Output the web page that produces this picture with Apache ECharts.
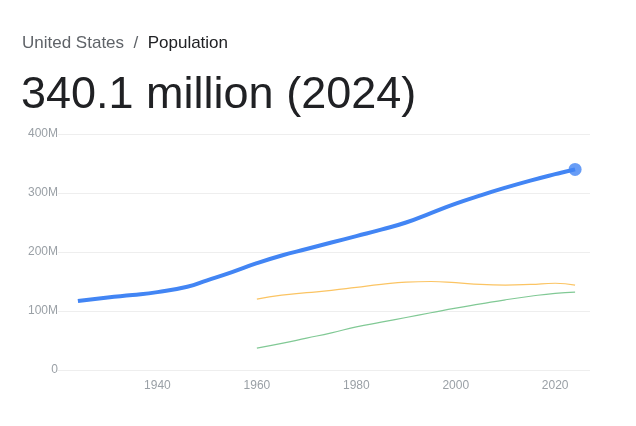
<!DOCTYPE html>
<html><head><meta charset="utf-8">
<script src="https://cdn.jsdelivr.net/npm/echarts@6/dist/echarts.min.js"></script>
<style>body{margin:0;background:#fff}#c{width:636px;height:426px}</style>
</head><body><div id="c"></div>
<script>
var usYears = [1924, 1930, 1935, 1940, 1946, 1950, 1955, 1960, 1965, 1970, 1975, 1980, 1985, 1990, 1995, 2000, 2005, 2010, 2015, 2020, 2022, 2024];
var usPop = [117, 123, 127, 132, 141, 152, 166, 181, 194, 205, 216, 227, 238, 250, 266, 282, 296, 309, 321, 332, 336, 340];
var oYears = [1960, 1965, 1970, 1975, 1980, 1985, 1990, 1995, 2000, 2005, 2010, 2015, 2020, 2024];
var oPop = [120, 127, 131, 135, 140, 145, 149, 150, 148, 145, 144, 145, 147, 144];
var gPop = [37, 45, 54, 63, 73, 81, 89, 97, 105, 112, 119, 125, 130, 132];
var yTicks = ['0', '100M', '200M', '300M', '400M'];

function pairs(xs, ys) { return xs.map(function (x, i) { return [x, ys[i]]; }); }

var font = 'Liberation Sans, Arial, sans-serif';
var chart = echarts.init(document.getElementById('c'));
chart.setOption({
  animation: false,
  graphic: [
    { type: 'text', left: 22, top: 35, style: { rich: { a: { fill: '#5f6368', fontSize: 17, fontFamily: font }, b: { fill: '#202124', fontSize: 17, fontFamily: font } }, text: '{a|United States  /  }{b|Population}' } },
    { type: 'text', left: 21, top: 73, style: { text: '340.1 million (2024)', fill: '#202124', fontSize: 45, fontFamily: font } }
  ],
  grid: { left: 58, right: 46, top: 134, bottom: 56 },
  xAxis: {
    type: 'value', min: 1920, max: 2027, interval: 20,
    axisLine: { show: false },
    axisTick: { show: false }, splitLine: { show: false },
    axisLabel: { color: '#9aa0a6', fontSize: 12, fontFamily: font, margin: 10, showMinLabel: false, showMaxLabel: false,
      formatter: function (v) { return v % 20 === 0 && v > 1920 ? String(v) : ''; } }
  },
  yAxis: {
    type: 'value', min: 0, max: 400, interval: 100,
    axisLine: { show: false }, axisTick: { show: false },
    splitLine: { lineStyle: { color: '#eeeeee' } },
    axisLabel: { color: '#9aa0a6', fontSize: 12, fontFamily: font, margin: 0, formatter: function (v) { return yTicks[v / 100]; } }
  },
  series: [
    { type: 'line', data: pairs(oYears, oPop), smooth: true, showSymbol: false, lineStyle: { color: '#fbc463', width: 1.2 } },
    { type: 'line', data: pairs(oYears, gPop), smooth: true, showSymbol: false, lineStyle: { color: '#81c995', width: 1.2 } },
    { type: 'line', data: pairs(usYears, usPop), smooth: true, showSymbol: false, lineStyle: { color: '#4285f4', width: 4 } },
    { type: 'scatter', data: [[2024, 340]], symbolSize: 13, itemStyle: { color: '#4285f4' } }
  ]
});
</script></body></html>
